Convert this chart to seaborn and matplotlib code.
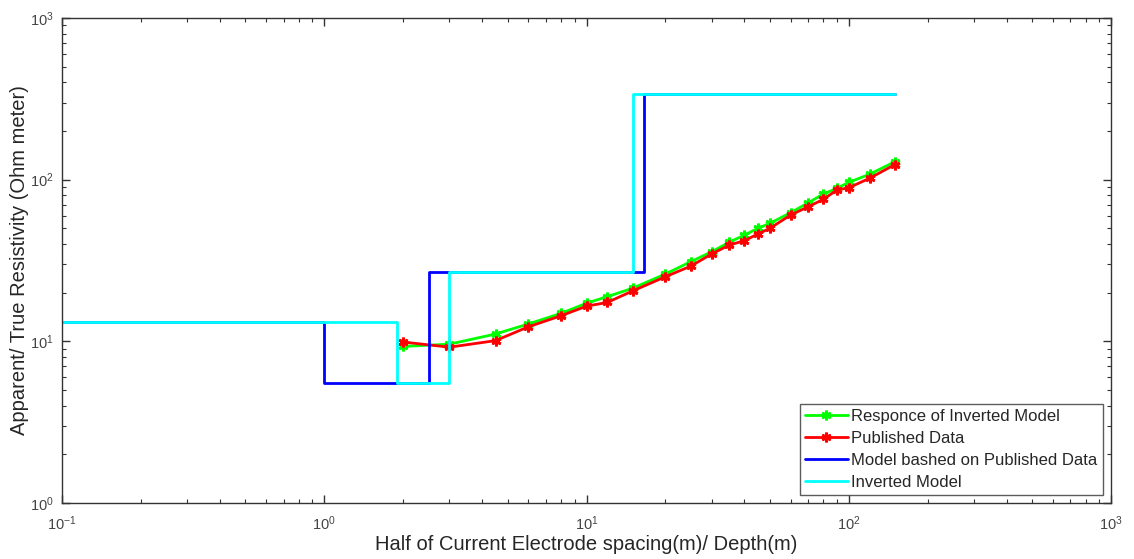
import numpy as np
import pandas as pd
import matplotlib
matplotlib.use("Agg")
import matplotlib.pyplot as plt
import seaborn as sns

# Sounding data (half current electrode spacing, m)
ab2 = [2, 3, 4.5, 6, 8, 10, 12, 15, 20, 25, 30, 35, 40, 45, 50, 60, 70, 80, 90, 100, 120, 150]
published = [9.9, 9.2, 10.1, 12.3, 14.4, 16.5, 17.4, 20.5, 25.1, 29.2, 34.7, 39.4, 41.9, 46.1,
             50.0, 60.4, 68.0, 75.5, 86.2, 89.1, 102, 124]
response = [9.3, 9.6, 11.1, 12.8, 14.9, 17.2, 18.9, 21.3, 26.1, 31.1, 35.8, 41.0, 45.4, 50.0,
            53.7, 62.4, 71.9, 81.5, 88.3, 96.2, 108, 129]

# Layered models: depth of layer tops and resistivities
pub_depth = [0.1, 1.0, 2.5, 16.5, 150]
pub_res = [13.2, 5.5, 27.0, 340, 340]
inv_depth = [0.1, 1.9, 3.0, 15.0, 150]
inv_res = [13.2, 5.5, 27.0, 340, 340]

labels = ["Responce of Inverted Model", "Published Data",
          "Model bashed on Published Data", "Inverted Model"]

sns.set_theme(style="ticks")
plt.rcParams["font.family"] = ["Liberation Sans", "DejaVu Sans"]
plt.rcParams["mathtext.default"] = "regular"

fig = plt.figure(figsize=(11.34, 5.59), dpi=100)
ax = fig.add_axes([0.0547, 0.1002, 0.9250, 0.8676])

df_resp = pd.DataFrame({"x": ab2, "y": response})
df_pub = pd.DataFrame({"x": ab2, "y": published})
df_pm = pd.DataFrame({"x": pub_depth, "y": pub_res})
df_im = pd.DataFrame({"x": inv_depth, "y": inv_res})

star = (6, 2, 0)
sns.lineplot(data=df_resp, x="x", y="y", ax=ax, color="#00ff00", lw=2,
             marker=star, markersize=7, markeredgewidth=2, markeredgecolor="#00ff00",
             label=labels[0], sort=False)
sns.lineplot(data=df_pub, x="x", y="y", ax=ax, color="#ff0000", lw=2,
             marker=star, markersize=7, markeredgewidth=2, markeredgecolor="#ff0000",
             label=labels[1], sort=False)
sns.lineplot(data=df_pm, x="x", y="y", ax=ax, color="#0000ff", lw=2,
             drawstyle="steps-post", label=labels[2], sort=False)
sns.lineplot(data=df_im, x="x", y="y", ax=ax, color="#00ffff", lw=2,
             drawstyle="steps-post", label=labels[3], sort=False)

ax.set_xscale("log")
ax.set_yscale("log")
ax.set_xlim(0.1, 1000)
ax.set_ylim(1, 1000)

ax.tick_params(which="both", direction="in", top=True, right=True, labelsize=10.5,
               colors="#333333", labelcolor="#444444")
ax.tick_params(axis="x", which="major", pad=8)
ax.tick_params(axis="y", which="major", pad=6)
ax.tick_params(which="major", length=6, width=1)
ax.tick_params(which="minor", length=3, width=0.8)
for s in ax.spines.values():
    s.set_color("#333333")
    s.set_linewidth(1)

ax.set_xlabel("Half of Current Electrode spacing(m)/ Depth(m)", fontsize=14.5, labelpad=2)
ax.set_ylabel("Apparent/ True Resistivity (Ohm meter)", fontsize=14.5, labelpad=1)

leg = ax.legend(loc="lower right", fontsize=12, frameon=True, fancybox=False,
                borderaxespad=0.5, handlelength=2.6, labelspacing=0.42,
                borderpad=0.3, handletextpad=0.2)
leg.get_frame().set_edgecolor("#333333")
leg.get_frame().set_linewidth(1)

fig.savefig("out.png", dpi=100)
